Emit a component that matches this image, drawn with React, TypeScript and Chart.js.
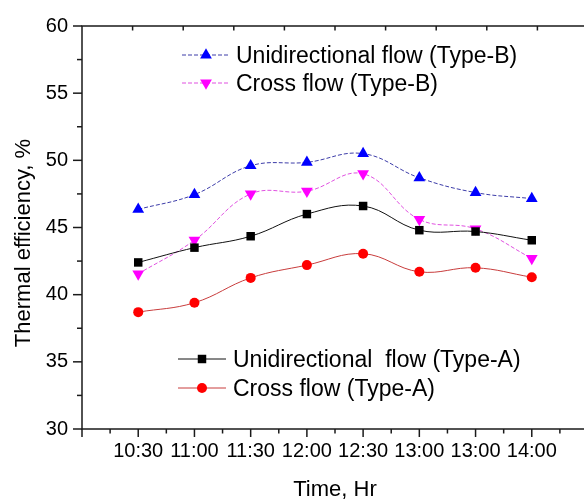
import React, { useEffect, useRef } from 'react';
import { Chart, registerables } from 'chart.js';
import { drawPoint } from 'chart.js/helpers';

Chart.register(...registerables);

const timeLabels = ['10:30', '11:00', '11:30', '12:00', '12:30', '13:00', '13:00', '14:00'];
const uniTypeA = [42.4, 43.5, 44.35, 46.0, 46.6, 44.8, 44.7, 44.05];
const crossTypeA = [38.7, 39.4, 41.25, 42.2, 43.05, 41.7, 42.0, 41.3];
const uniTypeB = [46.35, 47.45, 49.6, 49.85, 50.5, 48.7, 47.6, 47.15];
const crossTypeB = [41.55, 44.05, 47.5, 47.7, 49.0, 45.6, 44.9, 42.7];
const yMin = 30;
const yMax = 60;
const yStep = 5;

const FONT = "'Liberation Sans', Arial, sans-serif";

const seriesNames = [
  'Unidirectional  flow (Type-A)',
  'Cross flow (Type-A)',
  'Unidirectional flow (Type-B)',
  'Cross flow (Type-B)',
];

const toPoints = (arr: number[]) => arr.map((y, i) => ({ x: i, y }));

const decorPlugin = {
  id: 'decor',
  afterDraw(chart: any) {
    const { ctx, chartArea: a, scales } = chart;
    const xs = scales.x;
    const ys = scales.y;
    ctx.save();
    ctx.strokeStyle = '#1a1a1a';
    ctx.lineWidth = 1.5;
    ctx.setLineDash([]);
    ctx.strokeRect(a.left, a.top, a.right - a.left, a.bottom - a.top);
    const seg = (x1: number, y1: number, x2: number, y2: number) => {
      ctx.beginPath();
      ctx.moveTo(x1, y1);
      ctx.lineTo(x2, y2);
      ctx.stroke();
    };
    // y ticks (outward)
    for (let v = yMin; v <= yMax + 0.001; v += yStep / 2) {
      const y = ys.getPixelForValue(v);
      const major = Math.abs(v / yStep - Math.round(v / yStep)) < 1e-6;
      seg(a.left - (major ? 9 : 5), y, a.left, y);
    }
    // x ticks (outward)
    for (let v = xs.min; v <= xs.max + 0.001; v += 0.5) {
      const x = xs.getPixelForValue(v);
      const major = Math.abs(v - Math.round(v)) < 1e-6;
      seg(x, a.bottom, x, a.bottom + (major ? 8 : 4.5));
    }
    // top frame ticks (inward)
    for (let k = 1; k <= 9; k++) {
      const x = a.left + (k * (a.right - a.left)) / 10;
      seg(x, a.top, x, a.top + 4.5);
    }

    // legends
    const groups = [
      { x: 182, y: 55, len: 48, tx: 236, items: [2, 3], row: 28 },
      { x: 178, y: 359, len: 48, tx: 233, items: [0, 1], row: 29 },
    ];
    ctx.font = `23px ${FONT}`;
    ctx.fillStyle = '#000';
    ctx.textAlign = 'left';
    ctx.textBaseline = 'alphabetic';
    groups.forEach((g) => {
      g.items.forEach((di, r) => {
        const ds = chart.data.datasets[di];
        const y = g.y + r * g.row;
        ctx.save();
        ctx.strokeStyle = ds.borderColor;
        ctx.lineWidth = ds.borderWidth;
        ctx.setLineDash(ds.borderDash || []);
        seg(g.x, y, g.x + g.len, y);
        ctx.setLineDash([]);
        ctx.fillStyle = ds.pointBackgroundColor;
        ctx.strokeStyle = ds.pointBorderColor;
        drawPoint(ctx, {
          pointStyle: ds.pointStyle,
          rotation: ds.pointRotation || 0,
          radius: ds.pointRadius,
          borderWidth: ds.pointBorderWidth,
        }, g.x + g.len / 2, y);
        ctx.restore();
        ctx.fillStyle = '#000';
        ctx.fillText(seriesNames[di], g.tx, y + 8.3);
      });
    });

    // axis titles
    ctx.font = `22px ${FONT}`;
    ctx.textAlign = 'center';
    ctx.fillText('Time, Hr', (a.left + a.right) / 2, 496);
    ctx.save();
    ctx.translate(30, 243);
    ctx.rotate(-Math.PI / 2);
    ctx.textBaseline = 'alphabetic';
    ctx.fillText('Thermal efficiency, %', 0, 0);
    ctx.restore();
    ctx.restore();
  },
};

export default function App() {
  const ref = useRef<HTMLCanvasElement | null>(null);
  useEffect(() => {
    if (!ref.current) return;
    const chart = new Chart(ref.current, {
      type: 'line',
      data: {
        datasets: [
          {
            label: seriesNames[0],
            data: toPoints(uniTypeA),
            borderColor: '#111111',
            borderWidth: 1,
            pointStyle: 'rect',
            pointRadius: 6,
            pointBackgroundColor: '#000000',
            pointBorderColor: '#000000',
            pointBorderWidth: 0,
            tension: 0.4,
          },
          {
            label: seriesNames[1],
            data: toPoints(crossTypeA),
            borderColor: '#c83c3c',
            borderWidth: 1,
            pointStyle: 'circle',
            pointRadius: 5,
            pointBackgroundColor: '#ff0000',
            pointBorderColor: '#ff0000',
            pointBorderWidth: 0,
            tension: 0.4,
          },
          {
            label: seriesNames[2],
            data: toPoints(uniTypeB),
            borderColor: '#3c3ca8',
            borderWidth: 1,
            borderDash: [4, 2],
            pointStyle: 'triangle',
            pointRadius: 6.8,
            pointBackgroundColor: '#0000ff',
            pointBorderColor: '#0000ff',
            pointBorderWidth: 0,
            tension: 0.4,
          },
          {
            label: seriesNames[3],
            data: toPoints(crossTypeB),
            borderColor: '#e050e0',
            borderWidth: 1,
            borderDash: [4, 2],
            pointStyle: 'triangle',
            pointRotation: 180,
            pointRadius: 6.8,
            pointBackgroundColor: '#ff00ff',
            pointBorderColor: '#ff00ff',
            pointBorderWidth: 0,
            tension: 0.4,
          },
        ],
      },
      options: {
        responsive: false,
        devicePixelRatio: 1,
        animation: false,
        layout: { padding: { left: 0, top: 21, right: 32, bottom: 0 } },
        plugins: { legend: { display: false }, tooltip: { enabled: false } },
        scales: {
          x: {
            type: 'linear',
            min: -1,
            max: 8,
            grid: { display: false, drawTicks: false },
            border: { display: false },
            ticks: {
              stepSize: 1,
              autoSkip: false,
              maxRotation: 0,
              padding: 10,
              color: '#000',
              font: { family: FONT, size: 20 },
              callback: (v: any) => {
                const i = Math.round(Number(v));
                return i >= 0 && i < timeLabels.length ? timeLabels[i] : '';
              },
            },
            afterFit: (s: any) => {
              s.height = 70;
            },
          },
          y: {
            min: yMin,
            max: yMax,
            grid: { display: false, drawTicks: false },
            border: { display: false },
            ticks: {
              stepSize: yStep,
              padding: 14,
              color: '#000',
              font: { family: FONT, size: 20 },
            },
            afterFit: (s: any) => {
              s.width = 82;
            },
          },
        },
      },
      plugins: [decorPlugin],
    } as any);
    return () => chart.destroy();
  }, []);
  return (
    <div style={{ position: 'absolute', left: 0, top: 0, width: 584, height: 499, overflow: 'hidden', background: '#fff' }}>
      <canvas ref={ref} width={620} height={499} style={{ display: 'block' }} />
    </div>
  );
}
